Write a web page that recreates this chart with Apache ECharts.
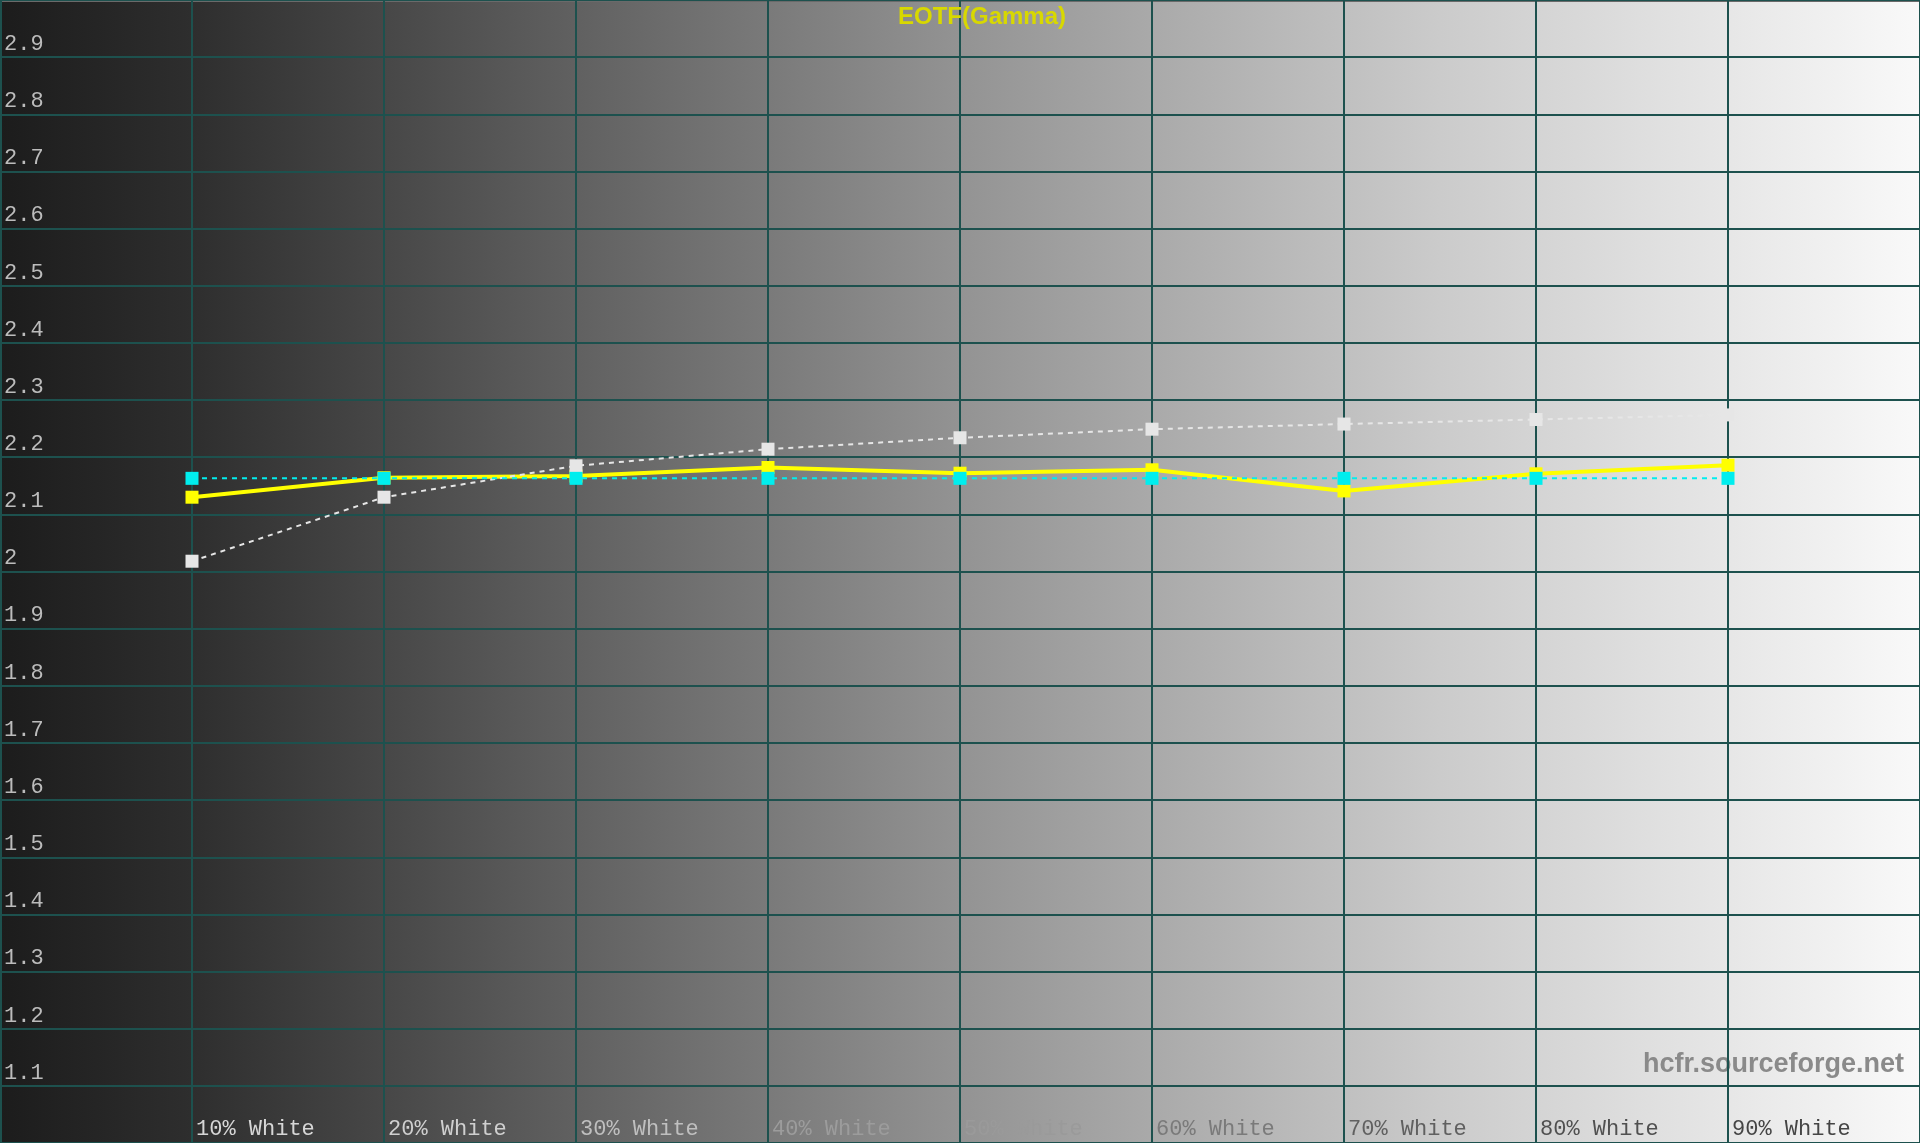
<!DOCTYPE html>
<html lang="en">
<head>
    <meta charset="UTF-8">
    <title>EOTF(Gamma)</title>
    <style>
        html, body { margin: 0; padding: 0; background: #1c1c1c; }
    </style>
</head>
<body>
<div id="main" style="width: 1920px;height:1143px;"></div>

<script src="https://cdn.jsdelivr.net/npm/echarts@6/dist/echarts.min.js"></script>
<script>
    // x positions (% white) and the three gamma curves
    var levels = [10, 20, 30, 40, 50, 60, 70, 80, 90];
    var measured = [2.130, 2.164, 2.167, 2.182, 2.172, 2.178, 2.141, 2.171, 2.186];
    var reference = [2.018, 2.130, 2.185, 2.214, 2.234, 2.249, 2.258, 2.266, 2.274];
    var average = [2.163, 2.163, 2.163, 2.163, 2.163, 2.163, 2.163, 2.163, 2.163];
    // label colours change with the background, like the original
    var xLabelColors = ['#d6d6d6', '#cfcfcf', '#bfbfbf', '#9c9c9c', '#9a9a9a', '#7a7a7a', '#606060', '#505050', '#454545'];

    function pairs(vals) {
        return levels.map(function (x, i) { return [x, vals[i]]; });
    }

    var chartDom = document.getElementById('main');
    var myChart = echarts.init(chartDom);
    var option;

    var gridColor = '#1d514e';

    option = {
        animation: false,
        title: {
            text: 'EOTF(Gamma)',
            left: 893,
            top: 0,
            textStyle: {
                color: '#d8d800',
                fontFamily: 'Liberation Sans, Arial, sans-serif',
                fontWeight: 'bold',
                fontSize: 24
            }
        },
        grid: {
            left: 0,
            right: 0,
            top: 0,
            bottom: 0,
            show: true,
            borderWidth: 0,
            backgroundColor: {
                type: 'linear', x: 0, y: 0, x2: 1, y2: 0,
                colorStops: [
                    {offset: 0, color: '#1c1c1c'},
                    {offset: 0.1, color: '#2e2e2e'},
                    {offset: 0.5, color: '#939393'},
                    {offset: 0.75, color: '#cbcbcb'},
                    {offset: 1, color: '#f9f9f9'}
                ]
            }
        },
        graphic: [{
            type: 'text',
            right: 16,
            top: 1051,
            z: 0,
            style: {
                text: 'hcfr.sourceforge.net',
                fill: '#8a8a8a',
                font: 'bold 27px "Liberation Sans", Arial, sans-serif'
            }
        }, {
            type: 'line',
            shape: {x1: 0, y1: 1, x2: 1920, y2: 1},
            style: {stroke: '#6a6a6a', lineWidth: 2}
        }],
        xAxis: {
            type: 'value',
            min: 0,
            max: 100,
            interval: 10,
            axisLine: {show: false},
            axisTick: {show: false},
            splitLine: {show: true, lineStyle: {color: gridColor, width: 2}},
            axisLabel: {
                inside: true,
                showMinLabel: false,
                showMaxLabel: false,
                margin: 3,
                align: 'left',
                verticalAlign: 'bottom',
                padding: [0, 0, 0, 4],
                fontFamily: 'Liberation Mono, Courier New, monospace',
                fontSize: 22,
                formatter: function (v) { return v + '% White'; },
                color: function (v) {
                    var i = Math.round(Number(v) / 10) - 1;
                    return xLabelColors[i] || '#888';
                }
            }
        },
        yAxis: {
            type: 'value',
            min: 1.0,
            max: 3.0,
            interval: 0.1,
            axisLine: {show: true, lineStyle: {color: gridColor, width: 3}},
            axisTick: {show: false},
            splitLine: {show: true, lineStyle: {color: gridColor, width: 2}},
            axisLabel: {
                inside: true,
                showMinLabel: false,
                showMaxLabel: false,
                margin: 4,
                align: 'left',
                verticalAlign: 'bottom',
                padding: [0, 0, 2, 0],
                color: '#bcbcbc',
                fontFamily: 'Liberation Mono, Courier New, monospace',
                fontSize: 22,
                formatter: function (v) { return String(Math.round(v * 10) / 10); }
            }
        },
        series: [
            {
                name: 'Measured',
                type: 'line',
                data: pairs(measured),
                symbol: 'rect',
                symbolSize: 13,
                lineStyle: {color: '#ffff00', width: 4},
                itemStyle: {color: '#ffff00', borderWidth: 0},
                emphasis: {disabled: true},
                z: 3
            },
            {
                name: 'Reference',
                type: 'line',
                data: pairs(reference),
                symbol: 'rect',
                symbolSize: 13,
                lineStyle: {color: '#e6e6e6', width: 2, type: [5, 5]},
                itemStyle: {color: '#e6e6e6', borderWidth: 0},
                emphasis: {disabled: true},
                z: 4
            },
            {
                name: 'Average',
                type: 'line',
                data: pairs(average),
                symbol: 'rect',
                symbolSize: 13,
                lineStyle: {color: '#00eeee', width: 2, type: [5, 5]},
                itemStyle: {color: '#00eeee', borderWidth: 0},
                emphasis: {disabled: true},
                z: 5
            }
        ]
    };

    option && myChart.setOption(option);
</script>
</body>
</html>
